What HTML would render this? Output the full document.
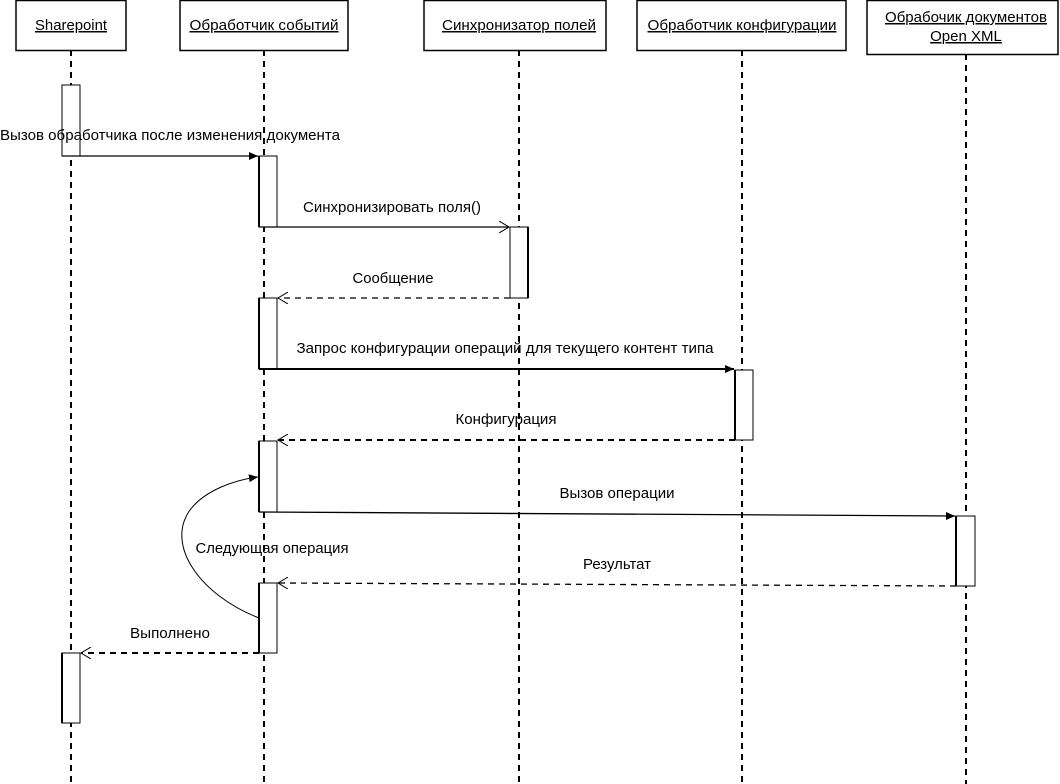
<!DOCTYPE html>
<html><head><meta charset="utf-8"><style>
html,body{margin:0;padding:0;background:#fff;}
svg{display:block;}
text{font-family:"Liberation Sans","DejaVu Sans",sans-serif;font-size:15px;fill:#000;}
</style></head><body>
<svg width="1060" height="784" viewBox="0 0 1060 784" xmlns="http://www.w3.org/2000/svg">
<defs>
<marker id="fa" markerWidth="10" markerHeight="10" refX="9" refY="5" orient="auto" markerUnits="userSpaceOnUse"><path d="M0,1 L9,5 L0,9 z" fill="#000"/></marker>
<marker id="oa" markerWidth="12" markerHeight="12" refX="10" refY="6" orient="auto" markerUnits="userSpaceOnUse"><path d="M0,0 L10,6 L0,12" fill="none" stroke="#000" stroke-width="1"/></marker>
</defs>
<g stroke="#000" stroke-width="2" stroke-dasharray="6,5" fill="none">
<line x1="71" y1="50" x2="71" y2="784"/>
<line x1="264" y1="50" x2="264" y2="784"/>
<line x1="519" y1="50" x2="519" y2="784"/>
<line x1="742" y1="50" x2="742" y2="784"/>
<line x1="966" y1="54" x2="966" y2="784"/>
</g>
<g fill="#fff" stroke="#000" stroke-width="1.5">
<rect x="16" y="0.5" width="110" height="50"/>
<rect x="180" y="0.5" width="168" height="50"/>
<rect x="424" y="0.5" width="182" height="50"/>
<rect x="637" y="0.5" width="209" height="50"/>
<rect x="867" y="0.5" width="191" height="54"/>
</g>
<g text-anchor="middle" text-decoration="underline">
<text x="71" y="30" textLength="72" lengthAdjust="spacingAndGlyphs">Sharepoint</text>
<text x="264" y="30" textLength="149" lengthAdjust="spacingAndGlyphs">Обработчик событий</text>
<text x="519" y="30" textLength="154" lengthAdjust="spacingAndGlyphs">Синхронизатор полей</text>
<text x="742" y="30" textLength="189" lengthAdjust="spacingAndGlyphs">Обработчик конфигурации</text>
<text x="966" y="22" textLength="162" lengthAdjust="spacingAndGlyphs">Обрабочик документов</text>
<text x="966" y="41">Open XML</text>
</g>
<g fill="#fff" stroke="#000" stroke-width="1">
<rect x="62" y="85" width="18" height="71"/>
<rect x="62" y="653" width="18" height="70"/>
<rect x="259" y="156" width="18" height="71"/>
<rect x="259" y="298" width="18" height="71"/>
<rect x="259" y="441" width="18" height="71"/>
<rect x="259" y="583" width="18" height="70"/>
<rect x="510" y="227" width="18" height="71"/>
<rect x="735" y="370" width="18" height="70"/>
<rect x="956" y="516" width="19" height="70"/>
</g>
<g stroke="#000" stroke-width="2">
<line x1="259" y1="156" x2="259" y2="227"/><line x1="259" y1="298" x2="259" y2="369"/>
<line x1="259" y1="441" x2="259" y2="512"/><line x1="259" y1="583" x2="259" y2="653"/>
<line x1="62" y1="653" x2="62" y2="723"/><line x1="735" y1="370" x2="735" y2="440"/>
<line x1="956" y1="516" x2="956" y2="586"/><line x1="528" y1="227" x2="528" y2="298"/>
</g>
<g stroke="#000" stroke-width="1.3" fill="none">
<line x1="62" y1="156" x2="258" y2="156" marker-end="url(#fa)"/>
<line x1="259" y1="227" x2="509" y2="227" marker-end="url(#oa)"/>
<line x1="510" y1="298" x2="278" y2="298" stroke-dasharray="6,5" marker-end="url(#oa)"/>
<line x1="259" y1="369" x2="734" y2="369" stroke-width="2" marker-end="url(#fa)"/>
<line x1="735" y1="440" x2="278" y2="440" stroke-width="2" stroke-dasharray="6,5" marker-end="url(#oa)"/>
<line x1="259" y1="512" x2="955" y2="516" marker-end="url(#fa)"/>
<line x1="956" y1="586" x2="278" y2="583" stroke-dasharray="6,5" marker-end="url(#oa)"/>
<line x1="259" y1="653" x2="81" y2="653" stroke-width="2" stroke-dasharray="6,5" marker-end="url(#oa)"/>
<path d="M259,618 C200,595 165,545 190,510 C205,490 235,480 258,477" stroke-width="1" marker-end="url(#fa)"/>
</g>
<g text-anchor="middle">
<text x="170" y="140" textLength="340" lengthAdjust="spacingAndGlyphs">Вызов обработчика после изменения документа</text>
<text x="392" y="212" textLength="178" lengthAdjust="spacingAndGlyphs">Синхронизировать поля()</text>
<text x="393" y="283" textLength="81" lengthAdjust="spacingAndGlyphs">Сообщение</text>
<text x="505" y="353" textLength="417" lengthAdjust="spacingAndGlyphs">Запрос конфигурации операций для текущего контент типа</text>
<text x="506" y="424" textLength="101" lengthAdjust="spacingAndGlyphs">Конфигурация</text>
<text x="617" y="498" textLength="115" lengthAdjust="spacingAndGlyphs">Вызов операции</text>
<text x="272" y="553" textLength="153" lengthAdjust="spacingAndGlyphs">Следующая операция</text>
<text x="617" y="569" textLength="68" lengthAdjust="spacingAndGlyphs">Результат</text>
<text x="170" y="638" textLength="80" lengthAdjust="spacingAndGlyphs">Выполнено</text>
</g>
</svg>
</body></html>
